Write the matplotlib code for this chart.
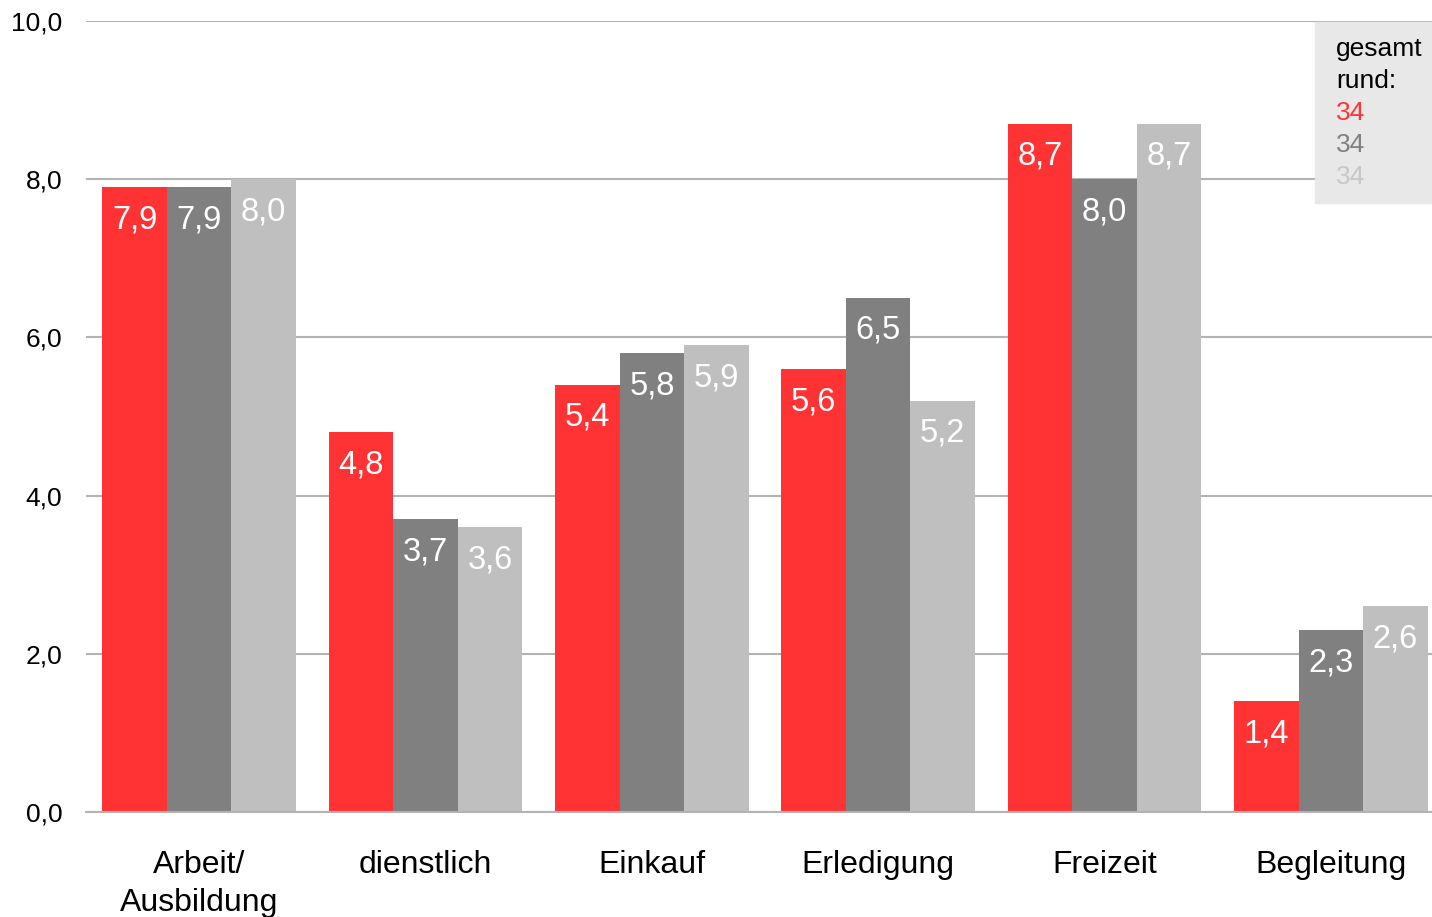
import matplotlib.pyplot as plt
import matplotlib.patches as mpatches
import numpy as np

plt.rcParams['font.family'] = ['Liberation Sans', 'DejaVu Sans']

categories = ["Arbeit/\nAusbildung", "dienstlich", "Einkauf", "Erledigung", "Freizeit", "Begleitung"]
series_a = [7.9, 4.8, 5.4, 5.6, 8.7, 1.4]
series_b = [7.9, 3.7, 5.8, 6.5, 8.0, 2.3]
series_c = [8.0, 3.6, 5.9, 5.2, 8.7, 2.6]
totals = ["34", "34", "34"]
colors = ["#FF3333", "#808080", "#BFBFBF"]
total_colors = ["#FF3333", "#808080", "#C8C8C8"]

W, H = 1432, 917
fig = plt.figure(figsize=(W / 100, H / 100), dpi=100)
ax = fig.add_axes([86 / W, (H - 812) / H, 1358 / W, 791 / H])

x = np.arange(len(categories))
bw = 0.285
for k, (vals, c) in enumerate(zip([series_a, series_b, series_c], colors)):
    pos = x + (k - 1) * bw
    ax.bar(pos, vals, width=bw, color=c, linewidth=0, zorder=3)
    for px, v in zip(pos, vals):
        ax.annotate(f"{v:.1f}".replace(".", ","), (px, v), xytext=(0, -23.5),
                    textcoords="offset points", ha="center", va="center",
                    color="white", fontsize=23.5, zorder=4)

ax.set_xlim(-0.5, len(categories) - 0.5)
ax.set_ylim(0, 10)
ax.set_yticks(np.arange(0, 10.1, 2))
ax.set_yticklabels([f"{t:.1f}".replace(".", ",") for t in np.arange(0, 10.1, 2)], fontsize=19)
ax.set_xticks(x)
ax.set_xticklabels(categories, fontsize=23, linespacing=1.32)
ax.tick_params(axis="y", length=0, pad=17)
ax.tick_params(axis="x", length=0, pad=27.5)
ax.grid(axis="y", color="#B3B3B3", linewidth=1.5, zorder=0)
for s in ["left", "right", "top"]:
    ax.spines[s].set_visible(False)
ax.spines["bottom"].set_color("#B3B3B3")
ax.spines["bottom"].set_linewidth(1.5)
ax.spines["bottom"].set_zorder(5)

# box with the totals in the upper right corner
fig.patches.append(mpatches.Rectangle((1315 / W, (H - 203) / H), 117 / W, 181 / H,
                                      transform=fig.transFigure, color="#E8E8E8", zorder=5))
lines = [("gesamt", "black"), ("rund:", "black")] + list(zip(totals, total_colors))
for i, (txt, c) in enumerate(lines):
    fig.text(1336 / W, (H - 49 - 32 * i) / H, txt, color=c, fontsize=19,
             ha="left", va="center", zorder=6)

fig.savefig("out.png", dpi=100)
